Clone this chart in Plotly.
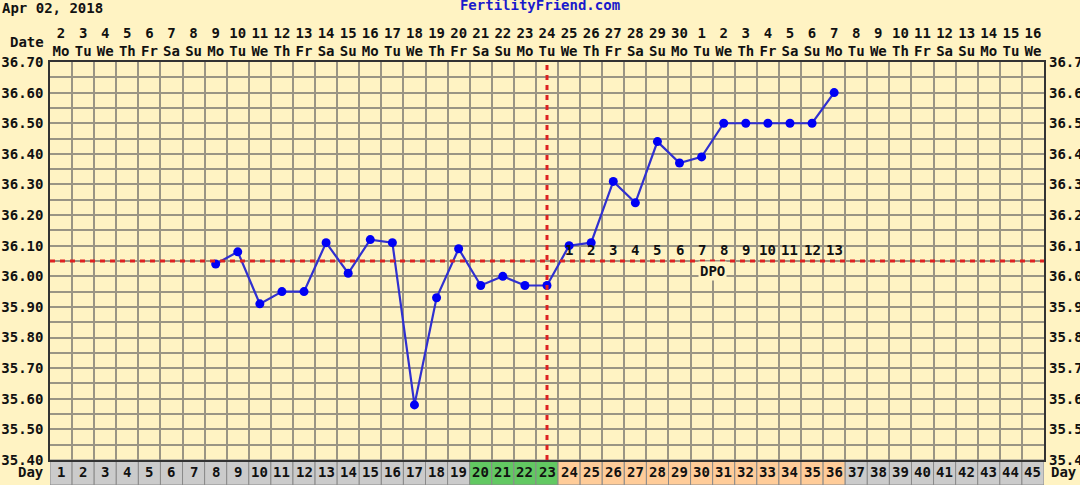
import datetime
import plotly.graph_objects as go

# chart data
days = list(range(1, 46))
start_date = datetime.date(2018, 4, 2)
dates = [start_date + datetime.timedelta(days=d - 1) for d in days]
date_nums = [str(d.day) for d in dates]
weekdays = [d.strftime("%a")[:2] for d in dates]

temp_days = list(range(8, 37))
temps = [36.04, 36.08, 35.91, 35.95, 35.95, 36.11, 36.01, 36.12, 36.11, 35.58,
         35.93, 36.09, 35.97, 36.00, 35.97, 35.97, 36.10, 36.11, 36.31, 36.24,
         36.44, 36.37, 36.39, 36.50, 36.50, 36.50, 36.50, 36.50, 36.60]

# cycle phase for each day cell in the bottom row
phases = ["none"] * 19 + ["fertile"] * 4 + ["luteal"] * 13 + ["none"] * 9
phase_colors = {"none": "#cbcbcb", "fertile": "#62c862", "luteal": "#ffcc99"}

coverline = 36.05
ovulation_day = 23
dpo_days = list(range(24, 37))
dpo_labels = [str(i) for i in range(1, 14)]

font_mono = dict(family="DejaVu Sans Mono", size=14, color="#111111", weight="bold")
grid_col = "#9a9584"
bg = "#fff3c3"

fig = go.Figure()

fig.add_trace(go.Scatter(
    x=temp_days, y=temps, mode="lines+markers",
    line=dict(color="#3030d0", width=2.2),
    marker=dict(color="#0000f5", size=9),
    hoverinfo="skip", showlegend=False,
))
# invisible trace to carry the top / right axes
fig.add_trace(go.Scatter(
    x=temp_days, y=temps, xaxis="x2", yaxis="y2", mode="markers",
    marker=dict(opacity=0), hoverinfo="skip", showlegend=False,
))

shapes = []
row_h = -25 / 398
for d, ph in zip(days, phases):
    shapes.append(dict(type="rect", xref="x", yref="paper",
                       x0=d - 0.5, x1=d + 0.5, y0=row_h, y1=0,
                       fillcolor=phase_colors[ph], line=dict(color="#8a8a8a", width=1),
                       layer="below"))
shapes.append(dict(type="line", xref="x", yref="y", x0=0.5, x1=45.5,
                   y0=coverline, y1=coverline,
                   line=dict(color="#dd2222", width=3, dash="5px,5px")))
shapes.append(dict(type="line", xref="x", yref="y", x0=ovulation_day, x1=ovulation_day,
                   y0=35.40, y1=36.70,
                   line=dict(color="#dd2222", width=3, dash="5px,5px")))

annotations = []
for d in days:
    annotations.append(dict(x=d, y=row_h / 2, xref="x", yref="paper", text=str(d),
                            showarrow=False, font=font_mono, yanchor="middle"))
for d, lab in zip(dpo_days, dpo_labels):
    annotations.append(dict(x=d, y=coverline + 0.037, xref="x", yref="y", text=lab,
                            showarrow=False, font=font_mono, yanchor="middle"))
annotations += [
    dict(x=30.5, y=coverline - 0.033, xref="x", yref="y", text="DPO", showarrow=False,
         font=font_mono, yanchor="middle", bgcolor=bg),
    dict(x=-0.004, y=row_h / 2, xref="paper", yref="paper", text="Day", showarrow=False,
         font=font_mono, xanchor="right", yanchor="middle"),
    dict(x=1.005, y=row_h / 2, xref="paper", yref="paper", text="Day", showarrow=False,
         font=font_mono, xanchor="left", yanchor="middle"),
    dict(x=-0.004, y=1.05, xref="paper", yref="paper", text="Date", showarrow=False,
         font=font_mono, xanchor="right", yanchor="middle"),
    dict(x=-0.0503, y=1.16, xref="paper", yref="paper", text="Apr 02, 2018", showarrow=False,
         font=font_mono, xanchor="left", yanchor="top"),
]

fig.update_layout(
    width=1080, height=485,
    margin=dict(l=50, r=36, t=62, b=25, autoexpand=False),
    paper_bgcolor=bg, plot_bgcolor=bg,
    title=dict(text="FertilityFriend.com", x=0.5, xref="container", y=1.0, yref="container",
               yanchor="top", pad=dict(t=0),
               font=dict(family="DejaVu Sans Mono", size=14, color="#1a1acc", weight="bold")),
    xaxis=dict(range=[0.5, 45.5], tick0=0.5, dtick=1, showticklabels=False, automargin=False,
               showgrid=True, gridcolor=grid_col, gridwidth=1.5, zeroline=False,
               showline=True, linecolor="#333333", linewidth=1.5, mirror=True, ticks=""),
    xaxis2=dict(range=[0.5, 45.5], overlaying="x", side="top", tickmode="array", automargin=False,
                tickvals=days, ticktext=[f"{n}<br>{w}" for n, w in zip(date_nums, weekdays)],
                showgrid=False, zeroline=False, tickfont=font_mono, ticks="", ticklabelstandoff=2),
    yaxis=dict(range=[35.40, 36.70], tick0=35.40, dtick=0.1, tickformat=".2f", automargin=False,
               showgrid=True, gridcolor=grid_col, gridwidth=1.5, zeroline=False,
               minor=dict(dtick=0.05, showgrid=True, gridcolor=grid_col, gridwidth=1.5),
               showline=True, linecolor="#333333", linewidth=1.5, mirror=True,
               tickfont=font_mono, ticks="", ticklabelstandoff=2),
    yaxis2=dict(range=[35.40, 36.70], overlaying="y", side="right", tick0=35.40, dtick=0.1,
                tickformat=".2f", showgrid=False, zeroline=False, tickfont=font_mono,
                automargin=False, ticks="", ticklabelstandoff=4),
    shapes=shapes, annotations=annotations,
)

# drop the default 8px body margin so the figure sits flush in the window
fig.write_html("out.html", config={"displayModeBar": False},
               post_script="document.body.style.margin='0';")
